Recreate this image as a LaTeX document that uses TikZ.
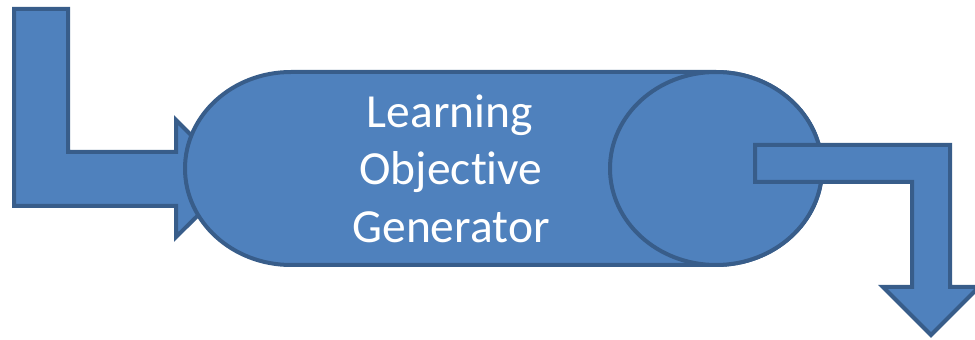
\documentclass[tikz,border=0pt]{standalone}
\usepackage{fontspec}
\setmainfont{Carlito}[Ligatures=NoCommon]
\definecolor{fillblue}{HTML}{4F81BD}
\definecolor{edgeblue}{HTML}{385D8A}
\tikzset{
  shape3d/.style={fill=fillblue, draw=edgeblue, line width=4pt, line join=miter},
  label3d/.style={text=white, font=\fontsize{47.5}{57}\selectfont, anchor=base, inner sep=0pt}
}
\begin{document}
\begin{tikzpicture}[x=1pt,y=1pt]
\useasboundingbox (0,0) rectangle (975,340);
% input bent arrow
\draw[shape3d] (14,331) -- (68,331) -- (68,188) -- (176,188) -- (176,220)
  -- (235,161) -- (176,103) -- (176,134) -- (14,134) -- cycle;
% cylinder body
\draw[shape3d] (716,268) -- (291,268)
  arc[start angle=90, end angle=270, x radius=106, y radius=96.5]
  -- (716,75)
  arc[start angle=-90, end angle=90, x radius=106, y radius=96.5] -- cycle;
% cylinder end
\draw[shape3d] (716,171.5) ellipse [x radius=106, y radius=96.5];
% output bent arrow
\draw[shape3d] (755,195) -- (950,195) -- (950,53) -- (979,53) -- (931,5)
  -- (883,53) -- (912,53) -- (912,158) -- (755,158) -- cycle;
% text
\node[label3d] (l1) at (450,212) {Learning};
\node[label3d] (l2) at (451,155) {Objective};
\node[label3d] (l3) at (451,97) {Generator};
\end{tikzpicture}
\end{document}
